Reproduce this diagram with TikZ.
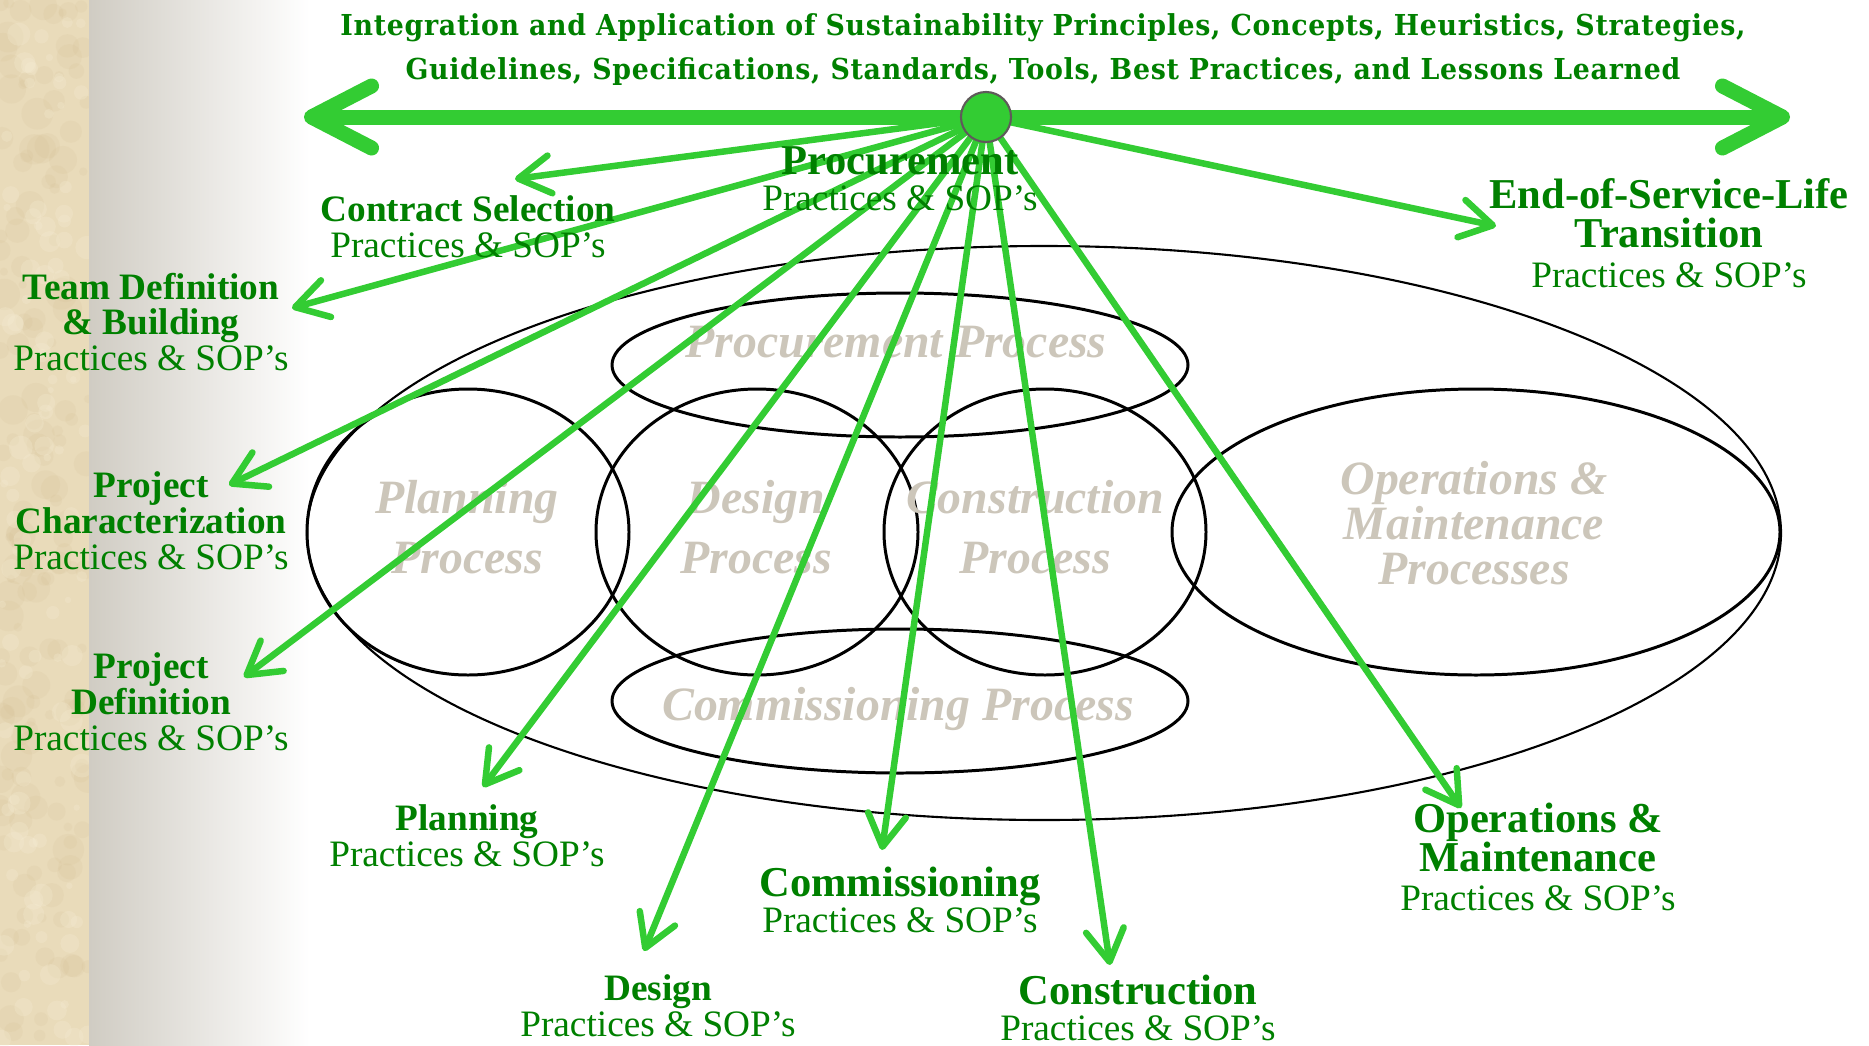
\documentclass[tikz,border=0pt]{standalone}
\usepackage{fontspec}
\setmainfont{Liberation Serif}
\newfontfamily\titlefont{DejaVu Serif}[FakeStretch=0.93, LetterSpace=2.4]
\usetikzlibrary{arrows.meta}

\definecolor{txtgreen}{RGB}{0,128,0}
\definecolor{linegreen}{RGB}{51,204,51}
\definecolor{procgray}{RGB}{204,198,186}
\definecolor{parch}{RGB}{233,219,186}
\definecolor{parchdark}{RGB}{208,186,140}
\definecolor{parchlight}{RGB}{247,238,214}
\definecolor{fadegray}{RGB}{208,204,195}
\definecolor{hubrim}{RGB}{95,90,90}

\newcommand{\sop}{Practices \& SOP’s}
\newcommand{\bigb}{\fontsize{12.1}{11}\selectfont\bfseries}

\begin{document}
\begin{tikzpicture}[x=0.01cm, y=-0.01cm,
  lbl/.style = {text=txtgreen, align=center, inner sep=0pt, font=\fontsize{10.6}{10.2}\selectfont},
  proc/.style = {draw, line width=0.85pt},
  ptext/.style = {text=procgray, align=center, inner sep=0pt, font=\fontsize{13.6}{17}\selectfont\bfseries\itshape},
  spoke/.style = {draw=linegreen, line width=0.065cm, -{Straight Barb[length=0.32cm, width=0.38cm, round]}},
  mainline/.style = {draw=linegreen, line width=0.15cm, {Straight Barb[length=0.6cm, width=0.62cm, round]}-{Straight Barb[length=0.6cm, width=0.62cm, round]}},
  hubdot/.style = {circle, fill=linegreen, draw=hubrim, line width=0.6pt, minimum size=0.5cm, inner sep=0pt}]
\useasboundingbox (0,0) rectangle (1869,1045);

% parchment strip and fade
\fill[parch] (0,0) rectangle (89,1045);
\pgfmathsetseed{11}
\foreach \i in {1,...,160}
  \fill[parchdark, opacity=0.13] ({rnd*89},{rnd*1045}) circle [radius={4+rnd*12}];
\foreach \i in {1,...,110}
  \fill[parchlight, opacity=0.25] ({rnd*89},{rnd*1045}) circle [radius={3+rnd*9}];
\shade[left color=fadegray, right color=white] (89,0) rectangle (310,1045);

% process ellipses
\draw[line width=0.6pt] (1044,533) ellipse [x radius=737, y radius=287];
\draw[proc] (900,365) ellipse [x radius=288, y radius=72];
\draw[proc] (900,701) ellipse [x radius=288, y radius=72];
\draw[proc] (468,532) ellipse [x radius=161, y radius=143];
\draw[proc] (757,532) ellipse [x radius=161, y radius=143];
\draw[proc] (1045,532) ellipse [x radius=161, y radius=143];
\draw[proc] (1476,532) ellipse [x radius=304, y radius=143];

\node[ptext] (procp) at (896,342) {Procurement Process};
\node[ptext] (planp) at (467,527) {Planning\\ Process};
\node[ptext] (desp) at (756,527) {Design\\ Process};
\node[ptext] (consp) at (1035,527) {Construction\\ Process};
\node[ptext, font=\fontsize{13.6}{12.8}\selectfont\bfseries\itshape] (omp) at (1474,523) {Operations \&\\ Maintenance\\ Processes};
\node[ptext] (commp) at (898,709) {Commissioning Process};

% hub, main line and spoke ends
\coordinate (hc) at (986,117);
\coordinate (lend) at (304,117);
\coordinate (rend) at (1790,117);
\coordinate (tcs) at (515,179);
\coordinate (tteam) at (292,308);
\coordinate (tpchar) at (229,485);
\coordinate (tpdef) at (244,677);
\coordinate (tplan) at (483,787);
\coordinate (tdes) at (644,951);
\coordinate (tcomm) at (882,850);
\coordinate (tcons) at (1110,965);
\coordinate (tom) at (1461,808);
\coordinate (teosl) at (1496,226);

\draw[mainline] (lend) -- (rend);
\foreach \t in {tcs,tteam,tpchar,tpdef,tplan,tdes,tcomm,tcons,tom,teosl}
  \draw[spoke] (hc) -- (\t);
\node[hubdot] (hub) at (hc) {};

% labels
\node[text=txtgreen, align=center, inner sep=0pt, font=\titlefont\bfseries\fontsize{8.2}{12.5}\selectfont] (title) at (1043,50)
  {Integration and Application of Sustainability Principles, Concepts, Heuristics, Strategies,\\ Guidelines, Specifications, Standards, Tools, Best Practices, and Lessons Learned};
\node[lbl] (proc) at (900,179) {{\bigb Procurement}\\ \sop};
\node[lbl] (cs) at (468,227) {\textbf{Contract Selection}\\ \sop};
\node[lbl] (team) at (151,322) {\textbf{Team Definition}\\ \textbf{\& Building}\\ \sop};
\node[lbl] (pchar) at (151,521) {\textbf{Project}\\ \textbf{Characterization}\\ \sop};
\node[lbl] (pdef) at (151,702) {\textbf{Project}\\ \textbf{Definition}\\ \sop};
\node[lbl] (plan) at (467,836) {\textbf{Planning}\\ \sop};
\node[lbl] (des) at (658,1006) {\textbf{Design}\\ \sop};
\node[lbl] (comm) at (900,900) {{\bigb Commissioning}\\ \sop};
\node[lbl] (cons) at (1138,1008) {{\bigb Construction}\\ \sop};
\node[lbl, font=\fontsize{10.6}{11.2}\selectfont] (om) at (1538,857) {{\bigb Operations \&}\\ {\bigb Maintenance}\\ \sop};
\node[lbl, font=\fontsize{10.6}{11.2}\selectfont] (eosl) at (1669,233) {{\bigb End-of-Service-Life}\\ {\bigb Transition}\\ \sop};
\end{tikzpicture}
\end{document}
